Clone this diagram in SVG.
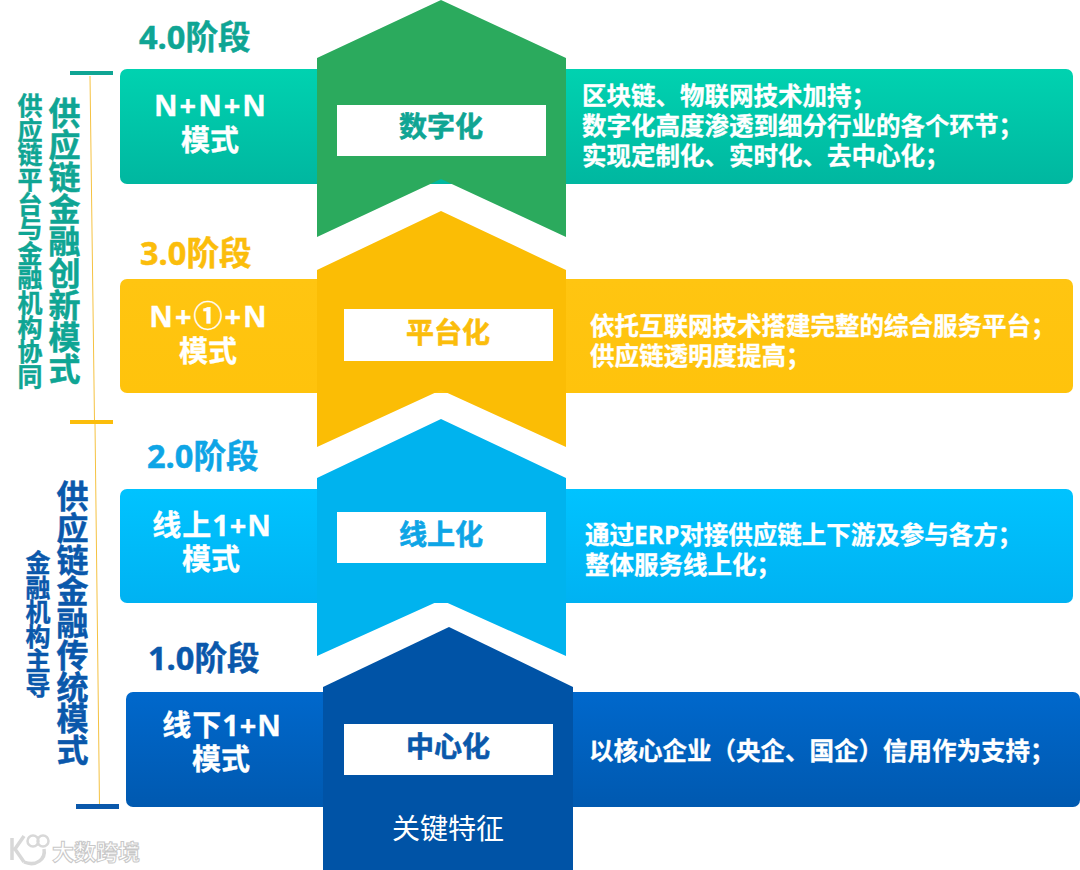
<svg xmlns="http://www.w3.org/2000/svg" width="1080" height="870" viewBox="0 0 1080 870">
<defs>
<linearGradient id="gT" x1="0" y1="0" x2="0" y2="1"><stop offset="0" stop-color="#00d2b0"/><stop offset="1" stop-color="#00b7a0"/></linearGradient>
<linearGradient id="gY" x1="0" y1="0" x2="0" y2="1"><stop offset="0" stop-color="#ffc511"/><stop offset="1" stop-color="#ffc30c"/></linearGradient>
<linearGradient id="gB" x1="0" y1="0" x2="0" y2="1"><stop offset="0" stop-color="#00c3ff"/><stop offset="1" stop-color="#00b2f2"/></linearGradient>
<linearGradient id="gD" x1="0" y1="0" x2="0" y2="1"><stop offset="0" stop-color="#0068cc"/><stop offset="1" stop-color="#0059b0"/></linearGradient>
</defs>
<style>
text{font-family:"Open Sans","Noto Sans CJK SC",sans-serif;font-weight:700}
.c{text-anchor:middle}
.stage{font-size:32.5px;stroke-width:.5px}
.mode{font-size:29px;fill:#fff;stroke:#fff;stroke-width:.3px;text-anchor:middle}
.ls2{letter-spacing:2px}
.ls1{letter-spacing:1px}
.note{font-size:24.5px;fill:#fff;stroke:#fff;stroke-width:.3px}
.key{font-size:28px;text-anchor:middle;stroke-width:.6px}
.v1{font-size:32px;writing-mode:vertical-rl;text-orientation:upright;stroke-width:.5px}
.v2{font-size:25px;writing-mode:vertical-rl;text-orientation:upright;stroke-width:.4px}
.box{fill:#fff}
.teal{fill:#0fa594;stroke:#0fa594}.amber{fill:#fbbd0b;stroke:#fbbd0b}.sky{fill:#0ea5e6;stroke:#0ea5e6}.navy{fill:#0a58ab;stroke:#0a58ab}
</style>
<rect width="1080" height="870" fill="#fff"/>
<g id="connectors">
<path d="M90 76L94.500 422" stroke="#f5c242" stroke-width="1" fill="none"/>
<path d="M95 424L99.500 806" stroke="#f5c242" stroke-width="1" fill="none"/>
<rect x="70" y="71" width="43" height="4" fill="#0fa594"/>
<rect x="70" y="420" width="43" height="4" fill="#fbbd0b"/>
<rect x="76" y="804" width="43" height="5" fill="#0a58ab"/>
</g>
<g id="stage4">
<rect x="120" y="69" width="953" height="115" rx="7" fill="url(#gT)"/>
<path d="M441 0L566 58V237L441 179L317 237V58Z" fill="#2baa5d"/>
<rect class="box" x="337" y="105" width="209" height="51"/>
<text class="stage teal" x="139" y="49">4.0阶段</text>
<text class="mode ls2" x="211" y="116">N+N+N</text>
<text class="mode" x="210" y="151">模式</text>
<text class="key teal" x="441" y="137">数字化</text>
<text class="note" x="582" y="105">区块链、物联网技术加持；</text>
<text class="note" x="582" y="135">数字化高度渗透到细分行业的各个环节；</text>
<text class="note" x="582" y="165">实现定制化、实时化、去中心化；</text>
</g>
<g id="stage3">
<rect x="120" y="279" width="953" height="114" rx="7" fill="url(#gY)"/>
<path d="M441 211L566 270V447L441 390L317 447V270Z" fill="#fbbd05"/>
<rect class="box" x="344" y="309" width="209" height="52"/>
<text class="stage amber" x="140" y="265">3.0阶段</text>
<text class="mode ls2" x="209" y="327">N+①+N</text>
<text class="mode" x="208" y="362">模式</text>
<text class="key amber" x="448" y="343">平台化</text>
<text class="note" x="590" y="335">依托互联网技术搭建完整的综合服务平台；</text>
<text class="note" x="590" y="365">供应链透明度提高；</text>
</g>
<g id="stage2">
<rect x="120" y="489" width="953" height="114" rx="7" fill="url(#gB)"/>
<path d="M441 419L566 478V656L441 600L317 656V478Z" fill="#00b3ee"/>
<rect class="box" x="337" y="512" width="209" height="51"/>
<text class="stage sky" x="147" y="468">2.0阶段</text>
<text class="mode ls1" x="212" y="536">线上1+N</text>
<text class="mode" x="211" y="570">模式</text>
<text class="key sky" x="441" y="545">线上化</text>
<text class="note" x="585" y="544">通过ERP对接供应链上下游及参与各方；</text>
<text class="note" x="585" y="574">整体服务线上化；</text>
</g>
<g id="stage1">
<rect x="126" y="692" width="954" height="115" rx="7" fill="url(#gD)"/>
<path d="M449 627L573 687V870H323V687Z" fill="#0053a6"/>
<rect class="box" x="344" y="724" width="209" height="51"/>
<text class="stage navy" x="148" y="670">1.0阶段</text>
<text class="mode ls1" x="222" y="736">线下1+N</text>
<text class="mode" x="221" y="770">模式</text>
<text class="key navy" x="448" y="757">中心化</text>
<text x="448" y="839" class="c" style="font-size:28px;font-weight:400;fill:#fff">关键特征</text>
<text class="note" x="589" y="760">以核心企业（央企、国企）信用作为支持；</text>
</g>
<g id="side-labels">
<text class="v1 teal" x="63" y="97" textLength="288">供应链金融创新模式</text>
<text class="v2 teal" x="29" y="93" textLength="296">供应链平台与金融机构协同</text>
<text class="v1 navy" x="71" y="480" textLength="286">供应链金融传统模式</text>
<text class="v2 navy" x="37" y="550" textLength="148">金融机构主导</text>
</g>
<g id="watermark">
<path d="M12 838V860M24 836L15 849L24 862M24 862C36 867 46 859 44 849" fill="none" stroke="#d8d8d8" stroke-width="3.500"/>
<circle cx="33" cy="841" r="5.500" fill="none" stroke="#d8d8d8" stroke-width="2.500"/>
<circle cx="43" cy="841" r="5.500" fill="none" stroke="#d8d8d8" stroke-width="2.500"/>
<text x="52" y="860" style="font-size:22px;fill:#fff;stroke:#c8c8c8;stroke-width:1">大数跨境</text>
</g>
</svg>
